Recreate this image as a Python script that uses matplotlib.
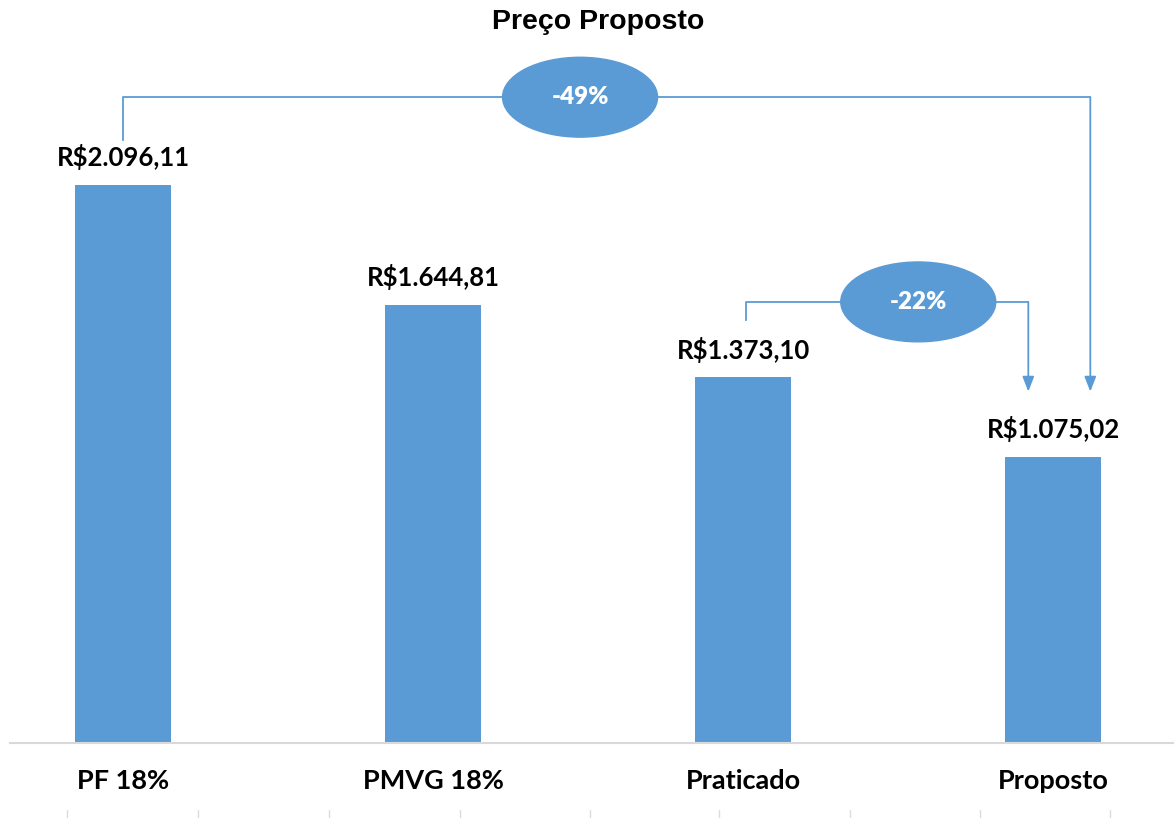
import matplotlib.pyplot as plt
from matplotlib.patches import Ellipse

categorias = ["PF 18%", "PMVG 18%", "Praticado", "Proposto"]
precos = [2096.11, 1644.81, 1373.10, 1075.02]
rotulos = ["R$2.096,11", "R$1.644,81", "R$1.373,10", "R$1.075,02"]
variacoes = ["-49%", "-22%"]

azul = "#5B9BD5"

fig = plt.figure(figsize=(11.74, 8.18), dpi=100)
ax = fig.add_axes([10 / 1174, 75 / 818, 1 - 10 / 1174, 703 / 818])

x = list(range(len(categorias)))
ax.bar(x, precos, width=0.31, color=azul, zorder=2)
ax.set_xlim(-0.365, 3.39)
ax.set_ylim(0, 2641)

for i, (v, r) in enumerate(zip(precos, rotulos)):
    ax.text(i, v + 105, r, ha="center", va="center", fontsize=18.5,
            fontweight="bold", family="Lato")

for s in ["top", "right", "left"]:
    ax.spines[s].set_visible(False)
ax.spines["bottom"].set_color("#d9d9d9")
ax.spines["bottom"].set_linewidth(1.5)
ax.set_yticks([])
ax.set_xticks(x)
ax.set_xticklabels(categorias, fontsize=19.5, fontweight="bold", family="Lato")
ax.tick_params(axis="x", length=0, pad=19)

# conector PF -> Proposto
y1 = precos[0] + 330
ax.plot([0, 0, 3.12], [precos[0] + 170, y1, y1], color=azul, lw=1.3, zorder=1)
ax.annotate("", xy=(3.12, precos[3] + 245), xytext=(3.12, y1),
            arrowprops=dict(arrowstyle="-|>,head_length=0.9,head_width=0.35",
                            color=azul, lw=1.3, shrinkA=0, shrinkB=0))
ax.add_patch(Ellipse((1.474, y1), 0.5, 300, color=azul, zorder=3))
ax.text(1.474, y1, variacoes[0], ha="center", va="center", color="white",
        fontsize=17.5, fontweight="heavy", family="Lato", zorder=4)

# conector Praticado -> Proposto
y2 = precos[2] + 284
ax.plot([2.01, 2.01, 2.92], [precos[2] + 216, y2, y2], color=azul, lw=1.3, zorder=1)
ax.annotate("", xy=(2.92, precos[3] + 245), xytext=(2.92, y2),
            arrowprops=dict(arrowstyle="-|>,head_length=0.9,head_width=0.35",
                            color=azul, lw=1.3, shrinkA=0, shrinkB=0))
ax.add_patch(Ellipse((2.565, y2), 0.5, 300, color=azul, zorder=3))
ax.text(2.565, y2, variacoes[1], ha="center", va="center", color="white",
        fontsize=17.5, fontweight="heavy", family="Lato", zorder=4)

fig.text(598 / 1174, 1 - 22 / 818, "Preço Proposto", ha="center", va="center",
         fontsize=20.5, fontweight="bold", family="Liberation Sans")

# marcas pequenas no rodapé
rod = fig.add_axes([0, 0, 1, 8 / 818])
rod.set_xlim(0, 1174)
rod.set_ylim(0, 1)
for xp in [67, 198, 329, 460, 590, 719, 850, 980, 1110]:
    rod.plot([xp, xp], [0, 1], color="#dcdcdc", lw=1)
rod.axis("off")

fig.savefig("out.png", dpi=100)
